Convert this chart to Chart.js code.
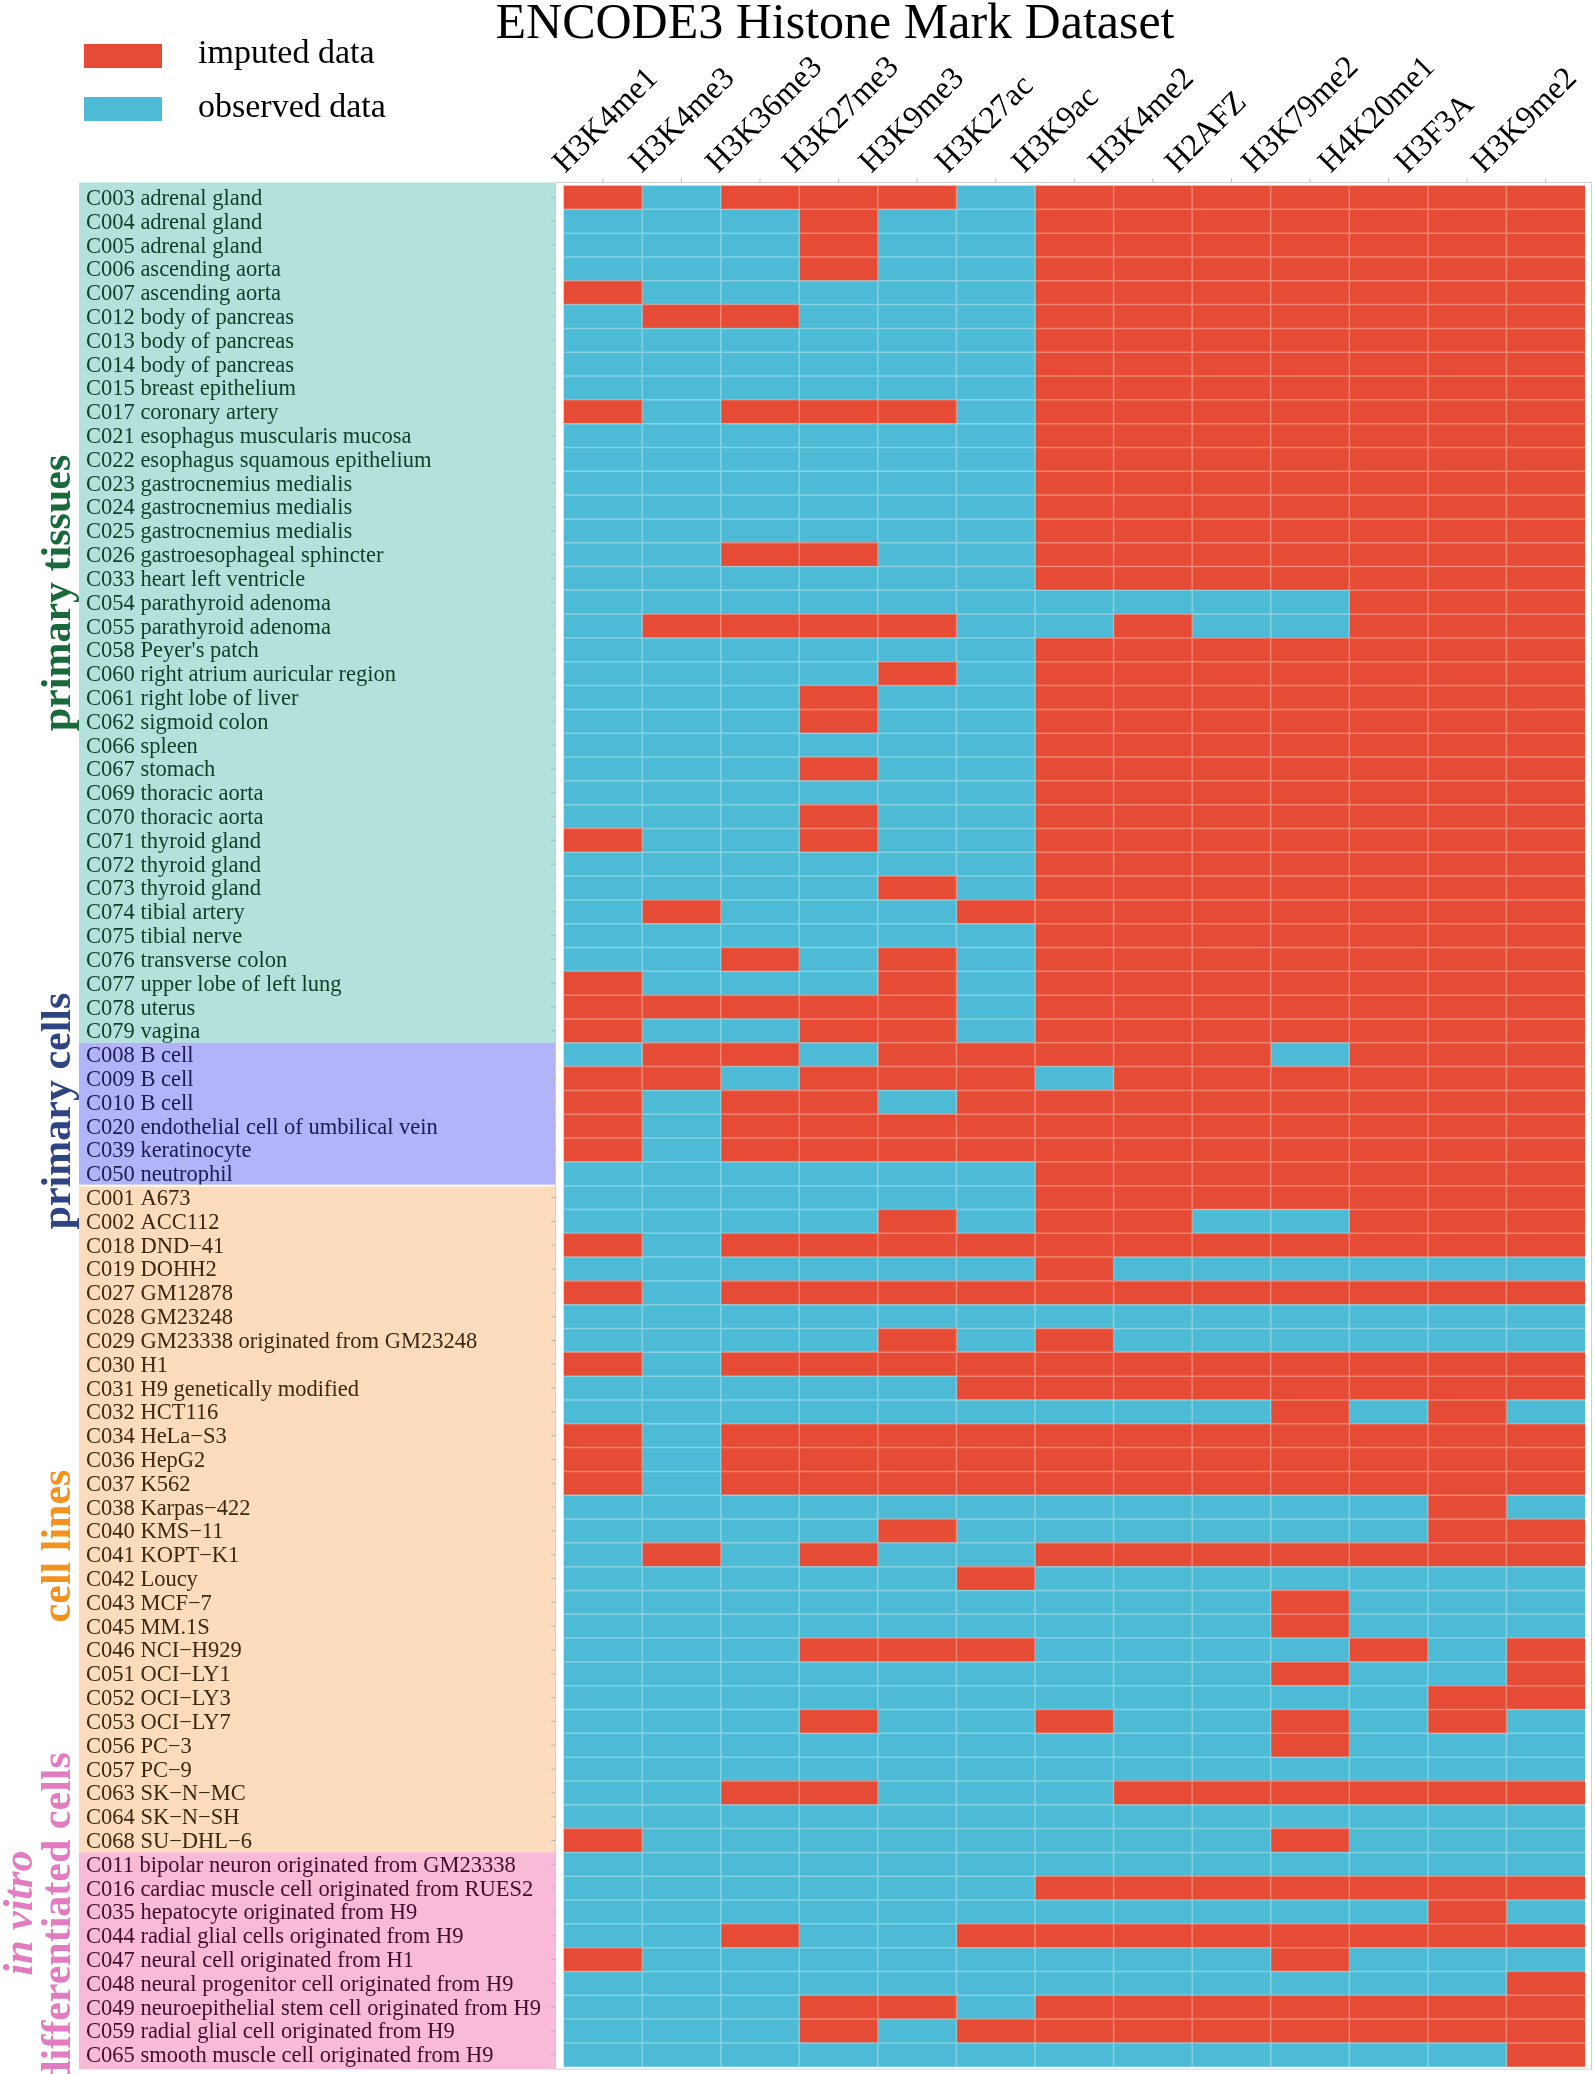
<!DOCTYPE html>
<html>
<head>
<meta charset="utf-8">
<script src="https://cdn.jsdelivr.net/npm/chart.js@4.4.0/dist/chart.umd.min.js"></script>
<style>
  html, body { margin: 0; padding: 0; background: #fff; overflow: hidden; }
  canvas { display: block; }
</style>
</head>
<body>
<canvas id="heatmap" width="1594" height="2074"></canvas>
<script>
// histone marks (columns)
const marks = ["H3K4me1", "H3K4me3", "H3K36me3", "H3K27me3", "H3K9me3", "H3K27ac",
  "H3K9ac", "H3K4me2", "H2AFZ", "H3K79me2", "H4K20me1", "H3F3A", "H3K9me2"];

// rows per group, and status per row: 1 = imputed, 0 = observed (one char per mark)
const tissueRows = ["C003 adrenal gland", "C004 adrenal gland", "C005 adrenal gland",
  "C006 ascending aorta", "C007 ascending aorta", "C012 body of pancreas",
  "C013 body of pancreas", "C014 body of pancreas", "C015 breast epithelium",
  "C017 coronary artery", "C021 esophagus muscularis mucosa",
  "C022 esophagus squamous epithelium", "C023 gastrocnemius medialis",
  "C024 gastrocnemius medialis", "C025 gastrocnemius medialis",
  "C026 gastroesophageal sphincter", "C033 heart left ventricle",
  "C054 parathyroid adenoma", "C055 parathyroid adenoma", "C058 Peyer's patch",
  "C060 right atrium auricular region", "C061 right lobe of liver",
  "C062 sigmoid colon", "C066 spleen", "C067 stomach", "C069 thoracic aorta",
  "C070 thoracic aorta", "C071 thyroid gland", "C072 thyroid gland",
  "C073 thyroid gland", "C074 tibial artery", "C075 tibial nerve",
  "C076 transverse colon", "C077 upper lobe of left lung", "C078 uterus", "C079 vagina"];
const tissueStatus = ["1011101111111", "0001001111111", "0001001111111", "0001001111111",
  "1000001111111", "0110001111111", "0000001111111", "0000001111111", "0000001111111",
  "1011101111111", "0000001111111", "0000001111111", "0000001111111", "0000001111111",
  "0000001111111", "0011001111111", "0000001111111", "0000000000111", "0111100100111",
  "0000001111111", "0000101111111", "0001001111111", "0001001111111", "0000001111111",
  "0001001111111", "0000001111111", "0001001111111", "1001001111111", "0000001111111",
  "0000101111111", "0100011111111", "0000001111111", "0010101111111", "1000101111111",
  "1111101111111", "1001101111111"];

const primaryCellRows = ["C008 B cell", "C009 B cell", "C010 B cell",
  "C020 endothelial cell of umbilical vein", "C039 keratinocyte", "C050 neutrophil"];
const primaryCellStatus = ["0110111110111", "1101110111111", "1011011111111",
  "1011111111111", "1011111111111", "0000001111111"];

const cellLineRows = ["C001 A673", "C002 ACC112", "C018 DND\u221241", "C019 DOHH2",
  "C027 GM12878", "C028 GM23248", "C029 GM23338 originated from GM23248", "C030 H1",
  "C031 H9 genetically modified", "C032 HCT116", "C034 HeLa\u2212S3", "C036 HepG2",
  "C037 K562", "C038 Karpas\u2212422", "C040 KMS\u221211", "C041 KOPT\u2212K1", "C042 Loucy",
  "C043 MCF\u22127", "C045 MM.1S", "C046 NCI\u2212H929", "C051 OCI\u2212LY1", "C052 OCI\u2212LY3",
  "C053 OCI\u2212LY7", "C056 PC\u22123", "C057 PC\u22129", "C063 SK\u2212N\u2212MC",
  "C064 SK\u2212N\u2212SH", "C068 SU\u2212DHL\u22126"];
const cellLineStatus = ["0000001111111", "0000101100111", "1011111111111", "0000001000000",
  "1011111111111", "0000000000000", "0000101000000", "1011111111111", "0000011111111",
  "0000000001010", "1011111111111", "1011111111111", "1011111111111", "0000000000010",
  "0000100000011", "0101001111111", "0000010000000", "0000000001000", "0000000001000",
  "0001110000101", "0000000001001", "0000000000011", "0001001001010", "0000000001000",
  "0000000000000", "0011000111111", "0000000000000", "1000000001000"];

const inVitroRows = ["C011 bipolar neuron originated from GM23338",
  "C016 cardiac muscle cell originated from RUES2", "C035 hepatocyte originated from H9",
  "C044 radial glial cells originated from H9", "C047 neural cell originated from H1",
  "C048 neural progenitor cell originated from H9",
  "C049 neuroepithelial stem cell originated from H9",
  "C059 radial glial cell originated from H9", "C065 smooth muscle cell originated from H9"];
const inVitroStatus = ["0000000000000", "0000001111111", "0000000000010", "0010011111111",
  "1000000001000", "0000000000001", "0001101111111", "0001011111111", "0000000000001"];

const legendLabels = ["imputed data", "observed data"];
const titleText = "ENCODE3 Histone Mark Dataset";

// styles
const RED = "#E64B35";
const BLUE = "#4DBBD5";
const groups = [
  { rows: tissueRows, band: "#b3e2dc", text: "#0f3d27", label: "#186a3b", y: 593 },
  { rows: primaryCellRows, band: "#b3b3fa", text: "#1b1b4d", label: "#2f4483", y: 1111 },
  { rows: cellLineRows, band: "#fcdcbc", text: "#3b2810", label: "#f3921f", y: 1546 },
  { rows: inVitroRows, band: "#f9bad8", text: "#3e0d2c", label: "#e27bbf", y: 1918 }
];

const rowLabels = [...tissueRows, ...primaryCellRows, ...cellLineRows, ...inVitroRows];
const status = [...tissueStatus, ...primaryCellStatus, ...cellLineStatus, ...inVitroStatus];

const SERIF = '"Liberation Serif", "Times New Roman", serif';

const decorations = {
  id: "decorations",
  beforeDatasetsDraw(chart) {
    const { ctx, chartArea: a, scales: { y } } = chart;
    const rowH = y.getPixelForValue(1) - y.getPixelForValue(0);
    const frameTop = a.top - 3, frameBottom = a.bottom + 2.5;
    ctx.save();
    // coloured bands behind the row labels
    let start = 0;
    groups.forEach((g, gi) => {
      let top = y.getPixelForValue(start) - rowH / 2;
      let bottom = y.getPixelForValue(start + g.rows.length - 1) + rowH / 2;
      if (gi === 0) top = frameTop;
      if (gi === groups.length - 1) bottom = frameBottom;
      ctx.fillStyle = g.band;
      ctx.fillRect(79, top, a.left - 8 - 79, bottom - top);
      ctx.font = "22.5px " + SERIF;
      ctx.fillStyle = g.text;
      ctx.textAlign = "left";
      ctx.textBaseline = "alphabetic";
      g.rows.forEach((r, i) => {
        ctx.fillText(r, 86, y.getPixelForValue(start + i) + 7.5);
      });
      start += g.rows.length;
    });
    // thin white gap between primary cells and cell lines
    const gapY = y.getPixelForValue(tissueRows.length + primaryCellRows.length) - rowH / 2;
    ctx.fillStyle = "#fff";
    ctx.fillRect(79, gapY - 1, a.left - 8 - 79, 2);
    ctx.restore();
  },
  afterDatasetsDraw(chart) {
    const { ctx, chartArea: a, scales: { x, y } } = chart;
    const rowH = y.getPixelForValue(1) - y.getPixelForValue(0);
    ctx.save();
    // light grid lines over tiles
    ctx.strokeStyle = "rgba(255,255,255,0.32)";
    ctx.lineWidth = 1.5;
    ctx.beginPath();
    for (let j = 1; j < marks.length; j++) {
      const px = x.getPixelForValue(j);
      ctx.moveTo(px, a.top); ctx.lineTo(px, a.bottom);
    }
    for (let i = 1; i < rowLabels.length; i++) {
      const py = y.getPixelForValue(i) - rowH / 2;
      ctx.moveTo(a.left, py); ctx.lineTo(a.right, py);
    }
    ctx.stroke();
    // panel frame
    const fl = a.left - 8, ft = a.top - 3, fr = a.right + 6.5, fb = a.bottom + 2.5;
    ctx.strokeStyle = "#cfcfcf";
    ctx.lineWidth = 1;
    ctx.strokeRect(fl, ft, fr - fl, fb - ft);
    // ticks
    ctx.strokeStyle = "#b5b5b5";
    ctx.beginPath();
    marks.forEach((m, j) => {
      const px = x.getPixelForValue(j + 0.5);
      ctx.moveTo(px, ft - 4); ctx.lineTo(px, ft);
    });
    rowLabels.forEach((r, i) => {
      const py = y.getPixelForValue(i);
      ctx.moveTo(fl - 4, py); ctx.lineTo(fl, py);
    });
    ctx.stroke();
    // column labels
    ctx.fillStyle = "#000";
    ctx.font = "32px " + SERIF;
    ctx.textAlign = "left";
    ctx.textBaseline = "alphabetic";
    marks.forEach((m, j) => {
      const px = x.getPixelForValue(j + 0.5) - 38 - 2 * j;
      ctx.save();
      ctx.translate(px, 174);
      ctx.rotate(-Math.PI / 4);
      ctx.fillText(m, 0, 0);
      ctx.restore();
    });
    // title
    ctx.font = "50px " + SERIF;
    ctx.textAlign = "center";
    ctx.fillText(titleText, 835, 38);
    // legend
    ctx.fillStyle = RED;
    ctx.fillRect(84, 44, 78, 24);
    ctx.fillStyle = BLUE;
    ctx.fillRect(84, 97, 78, 24);
    ctx.fillStyle = "#000";
    ctx.font = "34px " + SERIF;
    ctx.textAlign = "left";
    ctx.fillText(legendLabels[0], 198, 63);
    ctx.fillText(legendLabels[1], 198, 117);
    // vertical group labels
    const vtext = (text, px, py, font, color) => {
      ctx.save();
      ctx.translate(px, py);
      ctx.rotate(-Math.PI / 2);
      ctx.font = font;
      ctx.fillStyle = color;
      ctx.textAlign = "center";
      ctx.textBaseline = "alphabetic";
      ctx.fillText(text, 0, 0);
      ctx.restore();
    };
    const bold = "bold 42px " + SERIF;
    vtext("primary tissues", 70, groups[0].y, bold, groups[0].label);
    vtext("primary cells", 70, groups[1].y, bold, groups[1].label);
    vtext("cell lines", 70, groups[2].y, bold, groups[2].label);
    vtext("in vitro", 32, groups[3].y - 5, "italic bold 42px " + SERIF, groups[3].label);
    vtext("differentiated cells", 70, groups[3].y, bold, groups[3].label);
    ctx.restore();
  }
};

const datasets = marks.map((m, j) => ({
  label: m,
  data: rowLabels.map(() => [j, j + 1]),
  backgroundColor: status.map((s) => (s[j] === "1" ? RED : BLUE)),
  borderWidth: 0,
  barPercentage: 1,
  categoryPercentage: 1,
  grouped: false
}));

new Chart(document.getElementById("heatmap"), {
  type: "bar",
  data: { labels: rowLabels, datasets: datasets },
  options: {
    indexAxis: "y",
    responsive: false,
    animation: false,
    devicePixelRatio: 1,
    events: [],
    layout: { padding: { left: 563.6, right: 9, top: 185.5, bottom: 7.3 } },
    scales: {
      x: { type: "linear", min: 0, max: 13, display: false },
      y: { type: "category", offset: true, display: false }
    },
    plugins: { legend: { display: false }, tooltip: { enabled: false }, title: { display: false } }
  },
  plugins: [decorations]
});
</script>
</body>
</html>
